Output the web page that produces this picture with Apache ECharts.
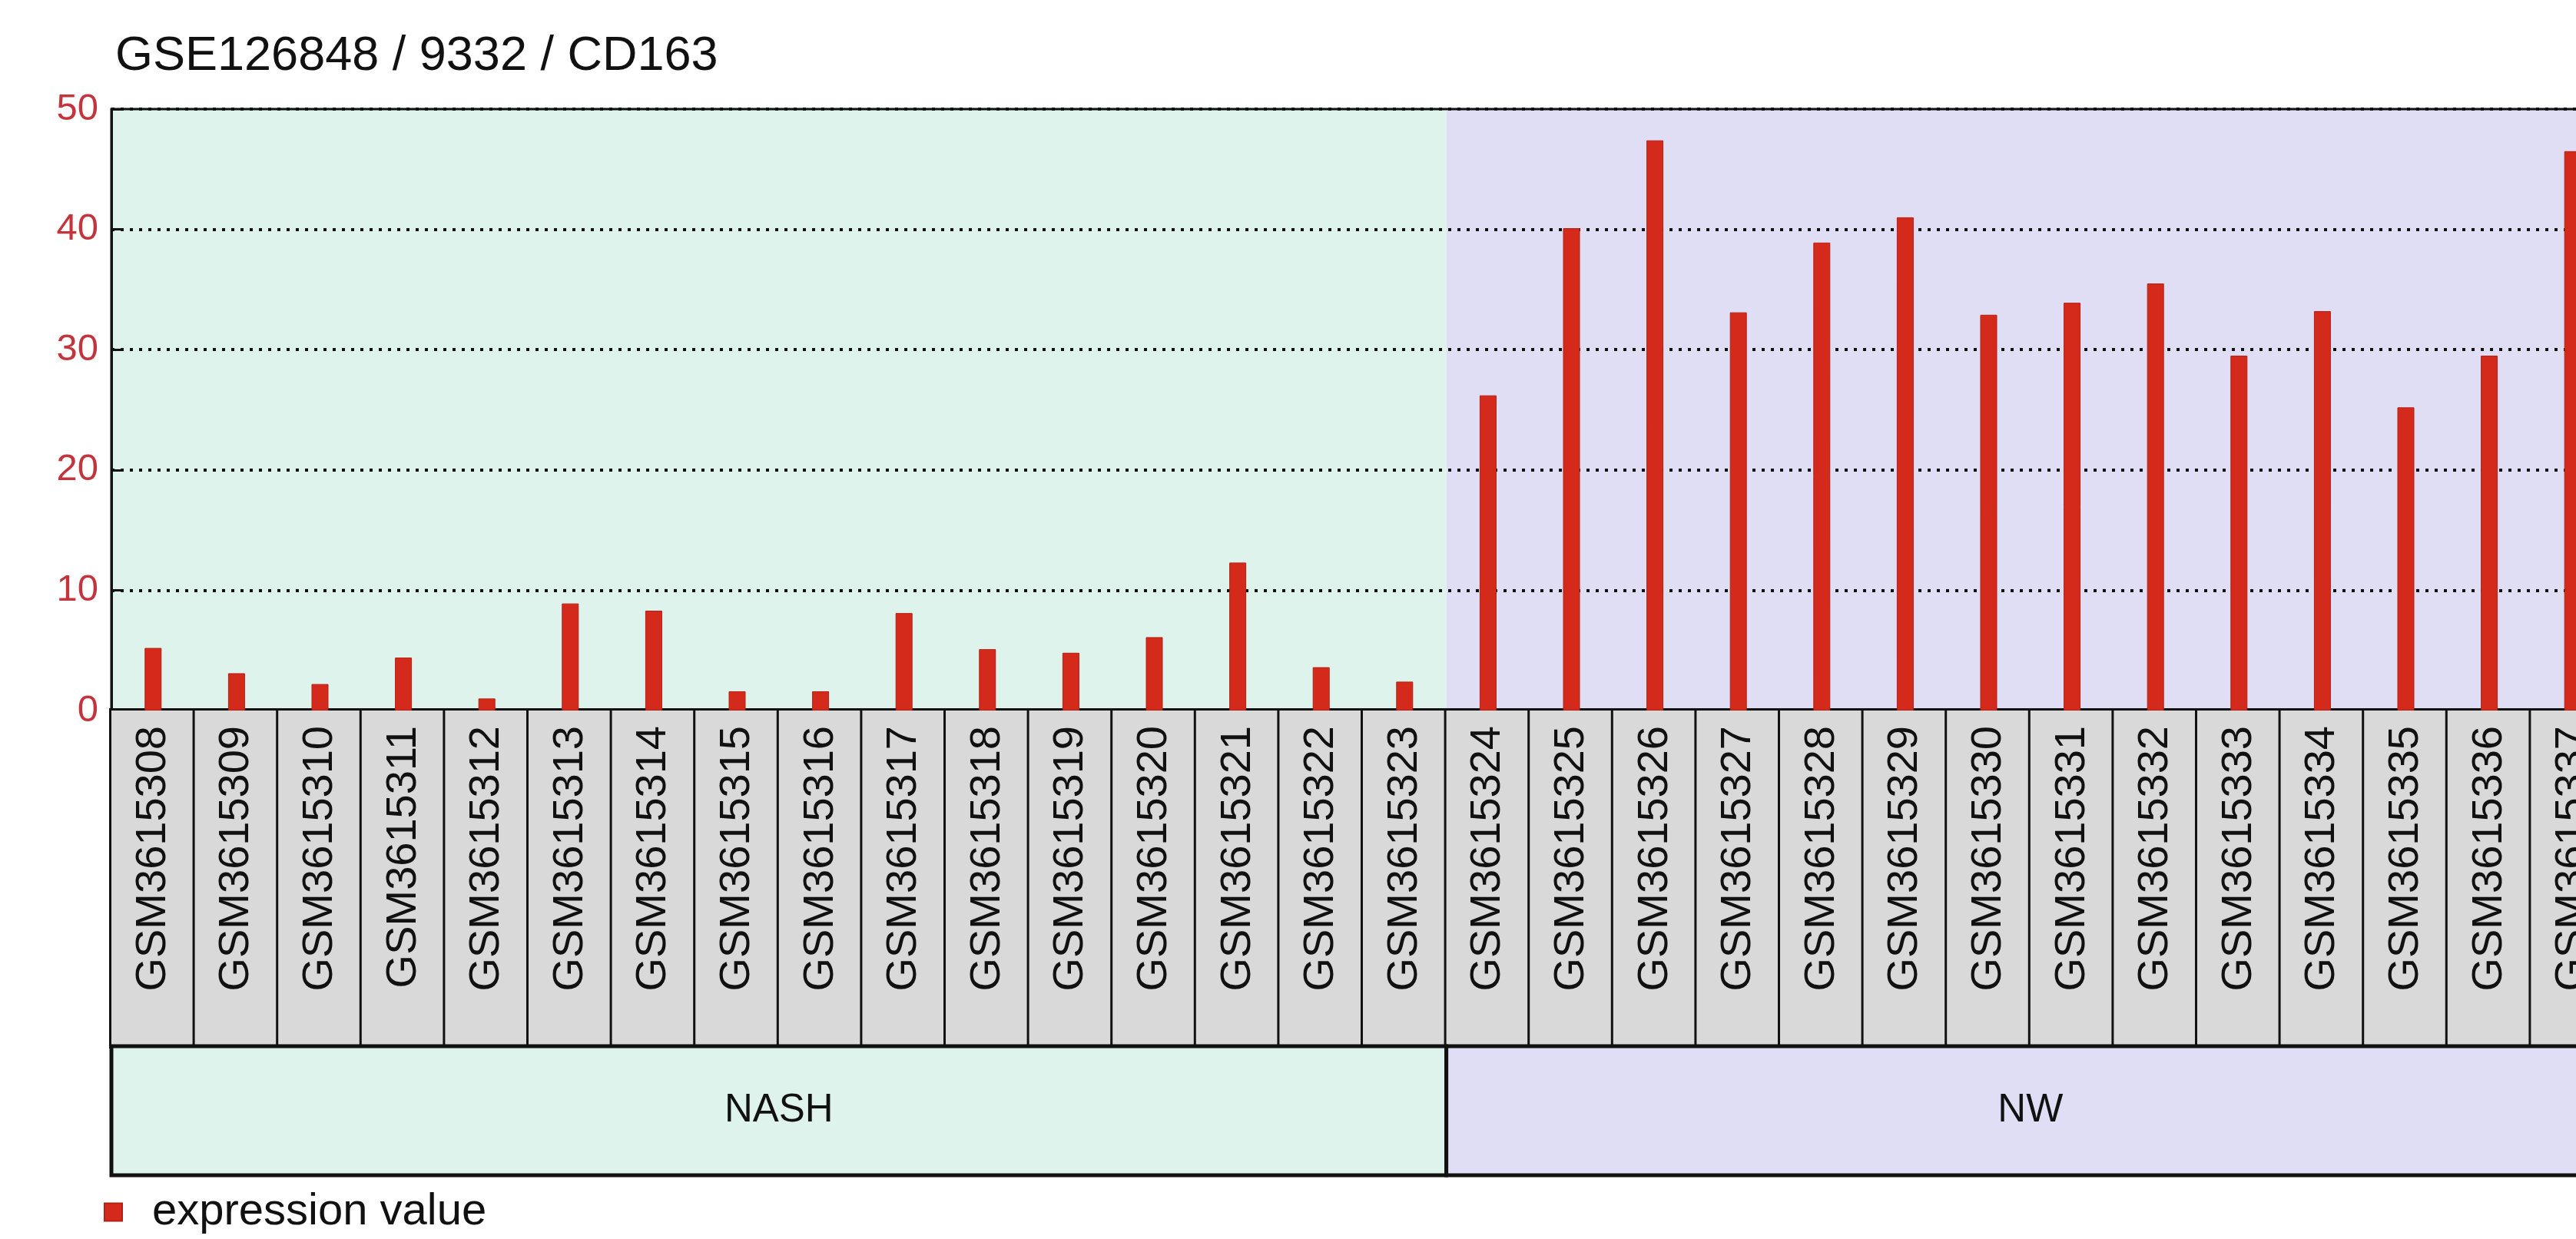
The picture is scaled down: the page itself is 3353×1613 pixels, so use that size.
<!DOCTYPE html>
<html><head><meta charset="utf-8">
<script src="https://cdn.jsdelivr.net/npm/echarts@6/dist/echarts.min.js"></script>
<style>html,body{margin:0;padding:0;background:#fff}#c{width:3353px;height:1613px}</style>
</head><body><div id="c"></div>
<script>
const chartTitle = 'GSE126848 / 9332 / CD163';
const samples = ['GSM3615308','GSM3615309','GSM3615310','GSM3615311','GSM3615312','GSM3615313','GSM3615314','GSM3615315','GSM3615316','GSM3615317','GSM3615318','GSM3615319','GSM3615320','GSM3615321','GSM3615322','GSM3615323','GSM3615324','GSM3615325','GSM3615326','GSM3615327','GSM3615328','GSM3615329','GSM3615330','GSM3615331','GSM3615332','GSM3615333','GSM3615334','GSM3615335','GSM3615336','GSM3615337'];
const values = [5.2,3.1,2.2,4.4,1.0,8.9,8.3,1.6,1.6,8.1,5.1,4.8,6.1,12.3,3.6,2.4,26.2,40.1,47.4,33.1,38.9,41.0,32.9,33.9,35.5,29.5,33.2,25.2,29.5,46.5];
const groupNames = ['NASH','NW'];
const groupSizes = [16,14];
const seriesName = 'expression value';
const yMin = 0, yMax = 50, yStep = 10;

const groupFills = ['#ddf3ec','#e0def4'];
const groupRanges = [];
let acc = 0;
groupSizes.forEach((n, i) => { groupRanges.push([acc, acc + n, i]); acc += n; });

const FONT = 'Liberation Sans';
const PLOT_W = 3258;
const chart = echarts.init(document.getElementById('c'));
chart.setOption({
  animation: false,
  title: {text: chartTitle, left: 150, top: 42, padding: 0,
    textStyle: {fontSize: 63, fontWeight: 'normal', color: '#111', fontFamily: FONT}},
  legend: {left: 135, top: 1549, icon: 'rect', itemWidth: 23, itemHeight: 23, padding: 0,
    data: [seriesName],
    textStyle: {fontSize: 58, color: '#111', fontFamily: FONT, padding: [0,0,0,34]}},
  grid: [
    {left: 145, width: PLOT_W, top: 142, bottom: 1613 - 925, outerBoundsMode: 'none', containLabel: false,
      show: true, borderColor: '#111', borderWidth: 3, backgroundColor: 'transparent'},
    {left: 145, width: PLOT_W, top: 1362, height: 168, outerBoundsMode: 'none', containLabel: false}
  ],
  xAxis: [
    {type: 'category', gridIndex: 0, data: samples,
      axisLine: {show: true, lineStyle: {color: '#111', width: 4}},
      axisTick: {show: false},
      axisLabel: {interval: 0, rotate: 90, margin: 0, fontSize: 56, color: '#111', fontFamily: FONT,
        backgroundColor: '#d9d9d9', borderColor: '#111', borderWidth: 3,
        width: 417, lineHeight: 108.6, padding: [0, 20, 0, 0]},
      splitLine: {show: false}},
    {type: 'value', gridIndex: 0, min: 0, max: samples.length, show: false},
    {type: 'value', gridIndex: 1, min: 0, max: samples.length, show: false}
  ],
  yAxis: [
    {type: 'value', gridIndex: 0, min: yMin, max: yMax, interval: yStep,
      axisLine: {show: true, lineStyle: {color: '#111', width: 3}},
      axisTick: {show: true, inside: true, length: 14, lineStyle: {color: '#111', width: 3}},
      axisLabel: {color: '#c4343c', fontSize: 49, margin: 17, fontFamily: FONT},
      splitLine: {show: true, lineStyle: {color: '#111', width: 4, type: [4, 8]}}},
    {type: 'value', gridIndex: 1, min: 0, max: 1, show: false}
  ],
  series: [
    {type: 'custom', name: 'bg', xAxisIndex: 1, yAxisIndex: 0, z: -1, silent: true,
      data: groupRanges,
      renderItem: (params, api) => {
        const p0 = api.coord([api.value(0), yMax]);
        const p1 = api.coord([api.value(1), yMin]);
        return {type: 'rect', shape: {x: p0[0], y: p0[1], width: p1[0] - p0[0], height: p1[1] - p0[1]},
          style: {fill: groupFills[api.value(2)]}};
      }},
    {type: 'custom', name: 'groups', xAxisIndex: 2, yAxisIndex: 1, silent: true, clip: false,
      data: groupRanges,
      renderItem: (params, api) => {
        const p0 = api.coord([api.value(0), 1]);
        const p1 = api.coord([api.value(1), 0]);
        const gi = api.value(2);
        return {type: 'group', children: [
          {type: 'rect', shape: {x: p0[0], y: p0[1], width: p1[0] - p0[0], height: p1[1] - p0[1]},
            style: {fill: groupFills[gi], stroke: '#111', lineWidth: 5}},
          {type: 'text', style: {text: groupNames[gi], x: (p0[0] + p1[0]) / 2, y: (p0[1] + p1[1]) / 2,
            align: 'center', verticalAlign: 'middle', fontSize: 51, fontFamily: FONT, fill: '#111'}}
        ]};
      }},
    {type: 'bar', name: seriesName, xAxisIndex: 0, yAxisIndex: 0, data: values, barWidth: 22,
      itemStyle: {color: '#d42a1c', borderColor: '#b32014', borderWidth: 1}}
  ]
});
</script></body></html>
